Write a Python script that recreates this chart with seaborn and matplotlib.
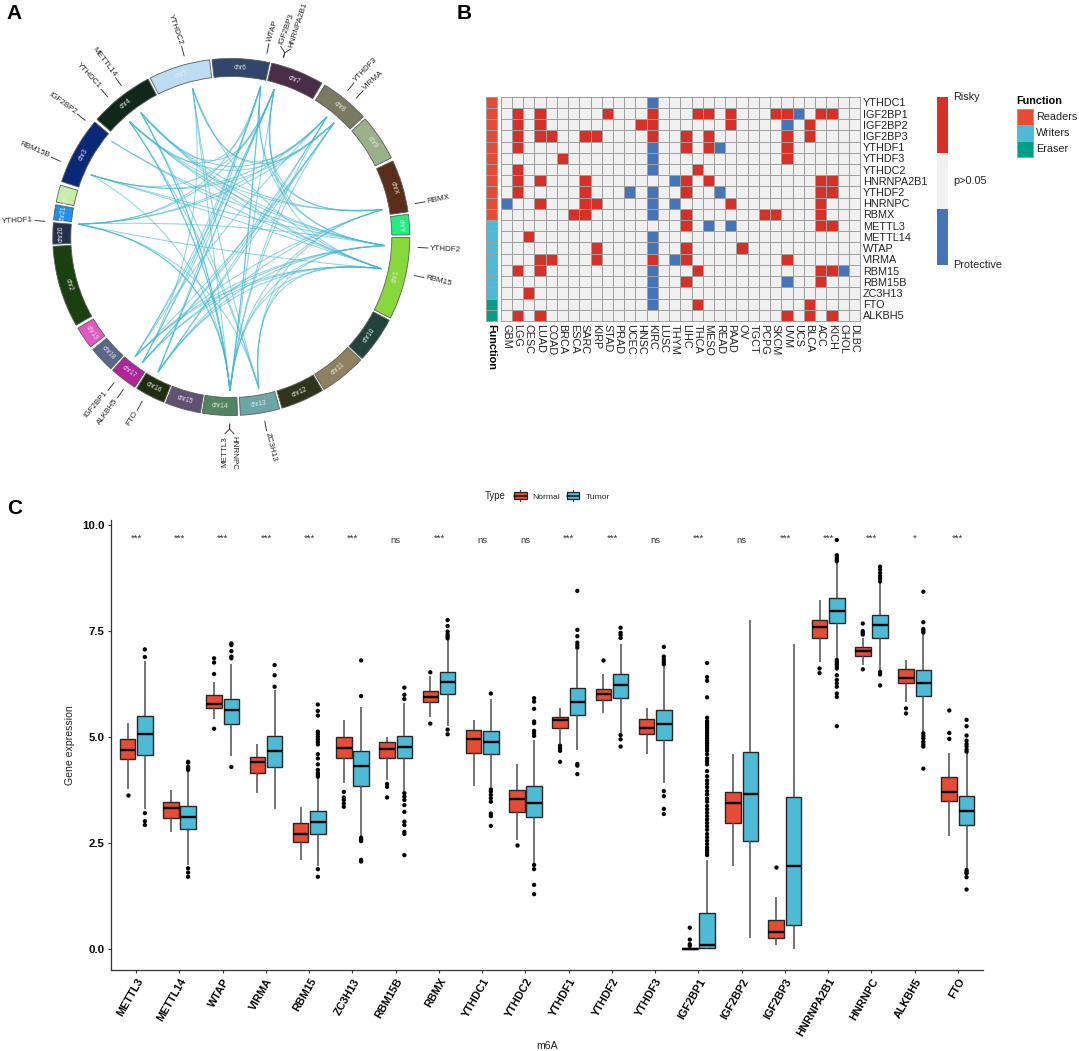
import numpy as np
import pandas as pd
import matplotlib
matplotlib.use("Agg")
import matplotlib.pyplot as plt
from matplotlib.colors import ListedColormap
from matplotlib.patches import Wedge, Rectangle, Patch
from matplotlib.lines import Line2D
from matplotlib.legend_handler import HandlerBase
from matplotlib.path import Path
from matplotlib.patches import PathPatch
import seaborn as sns

sns.set_style("white")
plt.rcParams["font.family"] = ["Liberation Sans", "DejaVu Sans"]

W, H = 1079, 1051

# ---------------- Panel A data ----------------
chromosomes = ["chr1", "chr10", "chr11", "chr12", "chr13", "chr14", "chr15", "chr16", "chr17", "chr18",
               "chr19", "chr2", "chr20", "chr21", "chr22", "chr3", "chr4", "chr5", "chr6", "chr7",
               "chr8", "chr9", "chrX", "chrY"]
chrom_start = [0.2, 27.8, 43.5, 59.3, 74.3, 88.0, 100.0, 112.2, 122.7, 132.4, 142.0, 150.4, 177.7, 185.5,
               191.3, 198.1, 221.2, 243.0, 263.8, 283.1, 301.6, 318.6, 334.8, 352.7]
chrom_end = [27.0, 42.9, 58.7, 73.5, 87.1, 99.4, 111.6, 122.0, 131.7, 140.9, 149.3, 177.0, 184.6, 190.4,
             196.9, 220.1, 242.2, 263.0, 282.4, 300.5, 317.7, 333.7, 351.9, 359.3]
chrom_colors = ["#88D83C", "#22423C", "#8E8160", "#2E351A", "#6AA6A6", "#4F8560", "#5E5270", "#202E10",
                "#B0249A", "#5A6888", "#E058C0", "#1A4010", "#25304A", "#1E90EE", "#C4F0A0", "#0A2878",
                "#10281A", "#BCDCF4", "#30466A", "#4A2E48", "#7A7A60", "#9AB088", "#5A2E18", "#22EE80"]

circos_genes = ["YTHDC2", "WTAP", "IGF2BP3", "HNRNPA2B1", "YTHDF3", "VIRMA", "RBMX", "YTHDF2", "RBM15", "ZC3H13",
                "HNRNPC", "METTL3", "FTO", "ALKBH5", "IGF2BP1", "YTHDF1", "RBM15B", "IGF2BP2", "YTHDC1", "METTL14"]
gene_theta = [255.4, 281.0, 286.2, 286.2, 308.5, 312.0, 349.7, 3.2, 11.9, 79.7,
              90.5, 90.5, 118.5, 125.3, 128.8, 184.8, 203.9, 218.6, 228.6, 234.0]
label_theta = [255.4, 281.0, 284.5, 287.5, 308.5, 312.0, 349.7, 3.2, 11.9, 79.7,
               89.2, 91.9, 118.5, 125.3, 128.8, 184.8, 203.9, 218.6, 228.6, 234.0]
label_rotation = [-71, 72, 70, 72, 46, 42, 11, -3, -14, -76, -90, 90, 59, 54, 50, 3, -23, -36, -47, -53]

links = [
    ("METTL3", "YTHDC1"), ("METTL3", "METTL14"), ("METTL3", "YTHDC2"), ("METTL3", "YTHDF1"), ("METTL3", "WTAP"),
    ("METTL3", "IGF2BP3"), ("METTL3", "YTHDF3"), ("METTL3", "YTHDF2"), ("METTL3", "RBMX"),
    ("HNRNPC", "YTHDC1"), ("HNRNPC", "METTL14"), ("HNRNPC", "WTAP"), ("HNRNPC", "VIRMA"), ("HNRNPC", "RBM15"),
    ("HNRNPC", "RBM15B"), ("HNRNPC", "YTHDF1"),
    ("ZC3H13", "YTHDF2"), ("ZC3H13", "RBM15"), ("ZC3H13", "YTHDC1"), ("ZC3H13", "METTL14"), ("ZC3H13", "YTHDC2"),
    ("ZC3H13", "RBMX"), ("ZC3H13", "YTHDF1"),
    ("FTO", "IGF2BP3"), ("FTO", "HNRNPA2B1"), ("FTO", "WTAP"), ("FTO", "YTHDF3"), ("FTO", "VIRMA"),
    ("FTO", "YTHDF2"), ("FTO", "RBM15"), ("FTO", "RBMX"),
    ("ALKBH5", "WTAP"), ("ALKBH5", "IGF2BP3"), ("ALKBH5", "YTHDF3"), ("ALKBH5", "VIRMA"), ("ALKBH5", "YTHDF2"),
    ("ALKBH5", "RBM15"), ("ALKBH5", "YTHDC2"),
    ("IGF2BP1", "WTAP"), ("IGF2BP1", "IGF2BP3"), ("IGF2BP1", "VIRMA"), ("IGF2BP1", "RBM15"), ("IGF2BP1", "YTHDF2"),
    ("IGF2BP1", "YTHDF3"), ("IGF2BP1", "RBMX"),
    ("YTHDF1", "YTHDF3"), ("YTHDF1", "VIRMA"), ("YTHDF1", "WTAP"), ("YTHDF1", "RBM15"), ("YTHDF1", "YTHDF2"),
    ("YTHDF1", "IGF2BP3"),
    ("RBM15B", "YTHDF3"), ("RBM15B", "VIRMA"), ("RBM15B", "YTHDF2"), ("RBM15B", "RBM15"), ("RBM15B", "IGF2BP3"),
    ("IGF2BP2", "YTHDF2"), ("IGF2BP2", "RBM15"),
    ("YTHDC1", "YTHDF2"), ("YTHDC1", "RBM15"), ("YTHDC1", "WTAP"), ("YTHDC1", "RBMX"), ("YTHDC1", "VIRMA"),
    ("METTL14", "YTHDF2"), ("METTL14", "RBM15"), ("METTL14", "RBMX"), ("METTL14", "IGF2BP3"), ("METTL14", "YTHDF3"),
    ("YTHDC2", "YTHDF3"), ("YTHDC2", "VIRMA"), ("YTHDC2", "RBM15"),
    ("WTAP", "RBMX"), ("WTAP", "YTHDF2"), ("IGF2BP3", "RBMX"), ("IGF2BP3", "RBM15"), ("HNRNPA2B1", "YTHDF2"),
]

# ---------------- Panel B data ----------------
cancers = ["GBM", "LGG", "CESC", "LUAD", "COAD", "BRCA", "ESCA", "SARC", "KIRP", "STAD", "PRAD", "UCEC", "HNSC",
           "KIRC", "LUSC", "THYM", "LIHC", "THCA", "MESO", "READ", "PAAD", "OV", "TGCT", "PCPG", "SKCM", "UVM",
           "UCS", "BLCA", "ACC", "KICH", "CHOL", "DLBC"]
heat_genes = ["YTHDC1", "IGF2BP1", "IGF2BP2", "IGF2BP3", "YTHDF1", "YTHDF3", "YTHDC2", "HNRNPA2B1", "YTHDF2",
              "HNRNPC", "RBMX", "METTL3", "METTL14", "WTAP", "VIRMA", "RBM15", "RBM15B", "ZC3H13", "FTO", "ALKBH5"]
risky = {
    "IGF2BP1": ["LGG", "LUAD", "STAD", "KIRC", "THCA", "MESO", "PAAD", "SKCM", "UVM", "ACC", "KICH"],
    "IGF2BP2": ["LGG", "LUAD", "HNSC", "KIRC", "PAAD", "BLCA"],
    "IGF2BP3": ["LGG", "LUAD", "COAD", "SARC", "KIRP", "KIRC", "LIHC", "MESO", "UVM", "BLCA"],
    "YTHDF1": ["LGG", "LIHC", "MESO", "UVM"],
    "YTHDF3": ["BRCA", "UVM"],
    "YTHDC2": ["LGG", "THCA"],
    "HNRNPA2B1": ["LGG", "LUAD", "SARC", "LIHC", "MESO", "ACC", "KICH"],
    "YTHDF2": ["LGG", "SARC", "LIHC", "ACC", "KICH"],
    "HNRNPC": ["LUAD", "SARC", "KIRP", "PAAD", "ACC"],
    "RBMX": ["ESCA", "SARC", "LIHC", "PCPG", "SKCM", "ACC"],
    "METTL3": ["LIHC", "ACC", "KICH"],
    "METTL14": ["CESC"],
    "WTAP": ["KIRP", "LIHC", "OV"],
    "VIRMA": ["LUAD", "COAD", "KIRP", "KIRC", "LIHC", "UVM"],
    "RBM15": ["LGG", "LUAD", "THCA", "ACC", "KICH"],
    "RBM15B": ["LIHC", "ACC"],
    "ZC3H13": ["CESC"],
    "FTO": ["THCA", "BLCA"],
    "ALKBH5": ["LGG", "LUAD", "UVM", "BLCA", "KICH"],
}
protective = {
    "YTHDC1": ["KIRC"],
    "IGF2BP1": ["UCS"],
    "IGF2BP2": ["UVM"],
    "YTHDF1": ["KIRC", "READ"],
    "YTHDF3": ["KIRC"],
    "YTHDC2": ["KIRC"],
    "HNRNPA2B1": ["THYM"],
    "YTHDF2": ["UCEC", "KIRC", "READ"],
    "HNRNPC": ["GBM", "KIRC", "THYM"],
    "RBMX": ["KIRC"],
    "METTL3": ["MESO", "PAAD"],
    "METTL14": ["KIRC"],
    "WTAP": ["KIRC"],
    "VIRMA": ["THYM"],
    "RBM15": ["KIRC", "CHOL"],
    "RBM15B": ["KIRC", "UVM"],
    "ZC3H13": ["KIRC"],
    "FTO": ["KIRC"],
}
function_groups = ["Readers"] * 11 + ["Writers"] * 7 + ["Eraser"] * 2
function_names = ["Readers", "Writers", "Eraser"]

# ---------------- Panel C data ----------------
genes = ["METTL3", "METTL14", "WTAP", "VIRMA", "RBM15", "ZC3H13", "RBM15B", "RBMX", "YTHDC1", "YTHDC2",
         "YTHDF1", "YTHDF2", "YTHDF3", "IGF2BP1", "IGF2BP2", "IGF2BP3", "HNRNPA2B1", "HNRNPC", "ALKBH5", "FTO"]
significance = ["***", "***", "***", "***", "***", "***", "ns", "***", "ns", "ns",
                "***", "***", "ns", "***", "ns", "***", "***", "***", "*", "***"]
normal_lo = [3.79, 2.77, 5.44, 3.68, 2.10, 3.91, 3.99, 5.47, 3.86, 2.58, 4.85, 5.56, 4.60, 0.00, 1.96, 0.10, 6.78, 6.70, 5.84, 2.66]
normal_q1 = [4.48, 3.09, 5.68, 4.16, 2.54, 4.50, 4.51, 5.82, 4.62, 3.24, 5.21, 5.87, 5.08, 0.00, 2.97, 0.27, 7.34, 6.92, 6.28, 3.50]
normal_med = [4.71, 3.33, 5.78, 4.41, 2.72, 4.75, 4.73, 5.95, 4.96, 3.54, 5.40, 6.03, 5.22, 0.01, 3.44, 0.42, 7.60, 7.03, 6.40, 3.70]
normal_q3 = [4.95, 3.48, 5.99, 4.54, 2.97, 5.00, 4.89, 6.09, 5.16, 3.75, 5.48, 6.14, 5.44, 0.02, 3.72, 0.68, 7.77, 7.13, 6.60, 4.07]
normal_hi = [5.34, 3.75, 6.29, 4.85, 3.35, 5.40, 5.01, 6.45, 5.40, 4.37, 5.70, 6.49, 5.69, 0.03, 4.60, 1.24, 8.23, 7.34, 6.82, 4.62]
tumor_lo = [3.31, 1.99, 4.56, 3.31, 1.96, 2.67, 3.74, 5.27, 3.82, 2.03, 4.70, 5.09, 3.91, 0.00, 0.27, 0.00, 6.86, 6.57, 5.13, 1.91]
tumor_q1 = [4.59, 2.83, 5.32, 4.30, 2.73, 3.86, 4.50, 6.03, 4.61, 3.11, 5.52, 5.92, 4.94, 0.02, 2.55, 0.57, 7.69, 7.34, 5.98, 2.92]
tumor_med = [5.07, 3.11, 5.63, 4.67, 2.99, 4.31, 4.77, 6.29, 4.89, 3.46, 5.84, 6.22, 5.30, 0.11, 3.66, 1.96, 7.98, 7.64, 6.28, 3.27]
tumor_q3 = [5.50, 3.39, 5.90, 5.04, 3.25, 4.67, 5.04, 6.54, 5.15, 3.85, 6.17, 6.49, 5.65, 0.86, 4.66, 3.58, 8.27, 7.87, 6.58, 3.61]
tumor_hi = [6.79, 4.20, 6.72, 6.11, 4.03, 5.72, 5.81, 7.29, 5.90, 4.93, 7.05, 7.19, 6.67, 2.10, 7.76, 7.19, 9.10, 8.63, 7.43, 4.62]
normal_outliers = [
    [3.63], [], [6.86, 6.76, 6.49, 5.20], [], [], [3.71, 3.58, 3.52, 3.44, 3.36], [3.90, 3.83, 3.58],
    [6.53, 5.32], [], [2.47], [4.80, 4.74, 4.68, 4.42], [6.82], [], [0.51, 0.23, 0.12, 0.08], [], [1.93],
    [6.62, 6.51], [7.68, 7.50, 7.46, 7.42, 6.60], [5.68, 5.56], [5.63, 5.10, 4.96],
]
tumor_outliers = [
    [7.07, 6.89, 3.21, 3.02, 2.93],
    [4.42, 4.40, 4.30, 4.27, 4.23, 1.91, 1.81, 1.71],
    [7.21, 7.17, 7.03, 6.90, 6.86, 4.30],
    [6.70, 6.46, 6.19],
    [5.77, 5.62, 5.51, 5.13, 5.07, 5.01, 4.95, 4.89, 4.83, 4.60, 4.50, 4.36, 4.23, 4.16, 4.11, 4.07, 1.89, 1.71],
    [6.81, 5.97, 2.63, 2.59, 2.55, 2.11, 2.07],
    [6.17, 6.00, 5.90, 3.68, 3.60, 3.52, 3.40, 3.24, 3.01, 2.93, 2.77, 2.72, 2.22],
    [7.76, 7.62, 7.49, 7.42, 7.37, 7.33, 5.18, 5.07],
    [6.03, 3.77, 3.72, 3.64, 3.56, 3.48, 3.20, 3.14, 2.91],
    [5.92, 5.84, 5.67, 5.37, 5.33, 5.15, 5.09, 5.03, 1.99, 1.89, 1.52, 1.30],
    [8.45, 7.53, 7.38, 7.23, 7.17, 7.11, 4.37, 4.33, 4.13],
    [7.58, 7.46, 7.41, 7.34, 5.05, 4.95, 4.78],
    [7.13, 6.90, 6.83, 6.77, 6.72, 3.73, 3.61, 3.31, 3.19],
    [6.75, 6.42, 6.33, 5.94, 5.46, 5.38, 5.33, 5.28, 5.22, 5.16, 5.10, 5.04, 4.98, 4.92, 4.86, 4.80, 4.74, 4.68,
     4.60, 4.50, 4.43, 4.36, 4.20, 4.08, 3.98, 3.90, 3.82, 3.73, 3.65, 3.55, 3.48, 3.38, 3.30, 3.22, 3.14, 3.06,
     2.98, 2.90, 2.82, 2.72, 2.64, 2.56, 2.48, 2.40, 2.34, 2.28, 2.22],
    [],
    [],
    [9.65, 9.29, 9.24, 9.19, 9.15, 6.82, 6.77, 6.72, 6.67, 6.62, 6.46, 6.35, 6.27, 6.19, 6.03, 5.95, 5.26],
    [9.02, 8.95, 8.87, 8.80, 8.74, 8.67, 6.54, 6.48, 6.22],
    [8.43, 7.71, 7.55, 7.51, 7.47, 5.09, 5.03, 4.97, 4.89, 4.83, 4.78, 4.26],
    [5.41, 5.26, 5.04, 4.92, 4.84, 4.78, 4.71, 4.66, 1.87, 1.82, 1.79, 1.70, 1.41],
]

# ---------------- Styles ----------------
RED, GREY, BLUE = "#D73027", "#F0F0F0", "#4575B8"
NPG_RED, NPG_BLUE, NPG_GREEN = "#E64B35", "#4DBBD5", "#00A087"
GRID = "#A0A0A0"
TXT = "#222222"
CELL_LW = 0.45


def px_axes(fig, x0, y0, x1, y1, **kw):
    return fig.add_axes([x0 / W, 1 - y1 / H, (x1 - x0) / W, (y1 - y0) / H], **kw)


fig = plt.figure(figsize=(W / 100, H / 100), dpi=100, facecolor="white")

# ---------------- Panel A ----------------
ax_a = fig.add_axes([0, 0, 1, 1], zorder=0)
ax_a.set_xlim(0, W)
ax_a.set_ylim(H, 0)
ax_a.axis("off")
CX, CY, R_OUT, R_IN, R_LINK = 231.3, 237.0, 178.5, 160.5, 153.7


def polar(theta, r):
    t = np.deg2rad(theta)
    return CX + r * np.cos(t), CY + r * np.sin(t)


for name, t0, t1, col in zip(chromosomes, chrom_start, chrom_end, chrom_colors):
    ax_a.add_patch(Wedge((CX, CY), R_OUT, t0, t1, width=R_OUT - R_IN, facecolor=col,
                         edgecolor="#5c5c5c", linewidth=0.6))
    mid = (t0 + t1) / 2
    rot = 90 - mid if mid < 180 else 270 - mid
    tx, ty = polar(mid, (R_OUT + R_IN) / 2)
    ax_a.text(tx, ty, name, rotation=rot, rotation_mode="anchor", ha="center", va="center",
              fontsize=4.7, color="#E8E8E8")

theta_of = dict(zip(circos_genes, gene_theta))
for g1, g2 in links:
    t1, t2 = theta_of[g1], theta_of[g2]
    p1, p2 = polar(t1, R_LINK), polar(t2, R_LINK)
    mx, my = (p1[0] + p2[0]) / 2 - CX, (p1[1] + p2[1]) / 2 - CY
    norm = np.hypot(mx, my) + 1e-9
    ctrl = (CX + mx / norm * 0.12 * R_LINK, CY + my / norm * 0.12 * R_LINK)
    path = Path([p1, ctrl, p2], [Path.MOVETO, Path.CURVE3, Path.CURVE3])
    ax_a.add_patch(PathPatch(path, facecolor="none", edgecolor="#45B8D6", linewidth=0.75, alpha=0.6))

for name, th, lth, rot in zip(circos_genes, gene_theta, label_theta, label_rotation):
    a = polar(th, 187)
    b = polar(th, 192)
    c = polar(lth, 197)
    if abs(th - lth) < 0.01:
        ax_a.plot([a[0], c[0]], [a[1], c[1]], color="#333333", lw=0.65)
    else:
        ax_a.plot([a[0], b[0], c[0]], [a[1], b[1], c[1]], color="#333333", lw=0.65)
    tx, ty = polar(lth, 199)
    left_side = np.cos(np.deg2rad(lth)) < 0
    ax_a.text(tx, ty, name, rotation=rot, rotation_mode="anchor", ha="right" if left_side else "left",
              va="center", fontsize=5.8, color=TXT)

# ---------------- Panel B ----------------
mat = pd.DataFrame(0, index=heat_genes, columns=cancers, dtype=float)
for g, cols in risky.items():
    mat.loc[g, cols] = 1
for g, cols in protective.items():
    mat.loc[g, cols] = -1
X0, X1, Y0, Y1 = 500.7, 860.0, 96.7, 321.0
ax_h = px_axes(fig, X0, Y0, X1, Y1)
sns.heatmap(mat, ax=ax_h, cmap=ListedColormap([BLUE, GREY, RED]), vmin=-1, vmax=1, cbar=False,
            linewidths=CELL_LW, linecolor=GRID, clip_on=False, xticklabels=True, yticklabels=True)
ax_h.yaxis.tick_right()
ax_h.tick_params(axis="both", length=0, pad=2)
ax_h.set_xticklabels(cancers, rotation=-90, fontsize=7.8, color=TXT)
ax_h.set_yticklabels(heat_genes, rotation=0, fontsize=7.8, color=TXT)
ax_h.set_xlabel("")
ax_h.set_ylabel("")

func_codes = pd.DataFrame({"Function": [function_names.index(f) for f in function_groups]}, index=heat_genes)
ax_f = px_axes(fig, 486, Y0, 497.3, Y1)
func_cmap = ListedColormap([NPG_RED, NPG_BLUE, NPG_GREEN])
sns.heatmap(func_codes, ax=ax_f, cmap=func_cmap, vmin=0, vmax=2, cbar=False,
            linewidths=CELL_LW, linecolor=GRID, xticklabels=True, yticklabels=False, clip_on=False)
ax_f.tick_params(axis="x", length=0, pad=2)
ax_f.set_xticklabels(["Function"], rotation=-90, fontsize=7.8, fontweight="bold", color="black")
ax_f.set_ylabel("")

# colour key
key = pd.DataFrame({"k": [1, 0, -1]}, index=["Risky", "p>0.05", "Protective"])
ax_k = px_axes(fig, 937.3, 96.7, 948.3, 265.0)
sns.heatmap(key, ax=ax_k, cmap=ListedColormap([BLUE, GREY, RED]), vmin=-1, vmax=1, cbar=False,
            xticklabels=False, yticklabels=False)
ax_k.set_xlabel("")
ax_k.set_ylabel("")
for yy, lab in zip([0.0, 1.5, 3.0], key.index):
    ax_k.text(1.42, yy, lab, fontsize=7.8, color=TXT, va="center", ha="left", clip_on=False)

# function legend
ax_l = px_axes(fig, 1016.5, 108.5, 1033, 156.5)
sns.heatmap(pd.DataFrame({"f": [0, 1, 2]}, index=function_names), ax=ax_l, cmap=func_cmap, vmin=0, vmax=2,
            cbar=False, linewidths=CELL_LW, linecolor=GRID, xticklabels=False, yticklabels=False, clip_on=False)
ax_l.set_xlabel("")
ax_l.set_ylabel("")
for i, lab in enumerate(function_names):
    ax_l.text(1.2, i + 0.5, lab, fontsize=7.8, color=TXT, va="center", ha="left", clip_on=False)
ax_l.text(0, -0.44, "Function", fontsize=7.8, fontweight="bold", color="black", va="center", ha="left", clip_on=False)

# ---------------- Panel C ----------------
rows = []
for i, g in enumerate(genes):
    for v in (normal_lo[i], normal_q1[i], normal_med[i], normal_q3[i], normal_hi[i]):
        rows.append((g, "Normal", v))
    for v in (tumor_lo[i], tumor_q1[i], tumor_med[i], tumor_q3[i], tumor_hi[i]):
        rows.append((g, "Tumor", v))
df_box = pd.DataFrame(rows, columns=["m6A", "Type", "value"])
out_rows = [(g, "Normal", v) for g, vs in zip(genes, normal_outliers) for v in vs]
out_rows += [(g, "Tumor", v) for g, vs in zip(genes, tumor_outliers) for v in vs]
df_out = pd.DataFrame(out_rows, columns=["m6A", "Type", "value"])

ax_c = px_axes(fig, 110.7, 520, 983, 969.7, zorder=2)
palette = {"Normal": NPG_RED, "Tumor": NPG_BLUE}
sns.boxplot(data=df_box, x="m6A", y="value", hue="Type", order=genes, hue_order=["Normal", "Tumor"],
            palette=palette, width=0.8, gap=0.1, whis=(0, 100), showfliers=False, saturation=1,
            linewidth=1.0, linecolor="#262626", legend=False, ax=ax_c,
            medianprops={"linewidth": 1.7, "color": "black"},
            whiskerprops={"linewidth": 1.1, "color": "#4d4d4d"},
            capprops={"linewidth": 0})
sns.stripplot(data=df_out, x="m6A", y="value", hue="Type", order=genes, hue_order=["Normal", "Tumor"],
              palette={"Normal": "black", "Tumor": "black"}, dodge=True, jitter=False, size=3.1, linewidth=0,
              legend=False, ax=ax_c, zorder=3)
ax_c.set_xlim(-0.59, 19.58)
ax_c.set_ylim(-0.48, 10.12)
ax_c.set_yticks([0, 2.5, 5, 7.5, 10])
ax_c.set_yticklabels(["0.0", "2.5", "5.0", "7.5", "10.0"], fontsize=8.2, fontweight="bold", color="black")
ax_c.set_xticks(range(len(genes)))
ax_c.set_xticklabels(genes, rotation=60, ha="right", va="top", rotation_mode="anchor",
                     fontsize=7.8, fontweight="bold", color="black")
ax_c.tick_params(axis="both", length=2.5, width=0.8, color="#333333", pad=2, bottom=True, left=True)
ax_c.tick_params(axis="x", pad=2.5)
ax_c.set_xlabel("m6A", fontsize=7.6, color=TXT, va="center")
ax_c.xaxis.set_label_coords(0.5, -0.1687)
ax_c.set_ylabel("Gene expression", fontsize=7.6, color=TXT)
ax_c.yaxis.set_label_coords(-0.041, 0.5)
sns.despine(ax=ax_c)
for s in ("left", "bottom"):
    ax_c.spines[s].set_linewidth(0.9)
    ax_c.spines[s].set_color("#333333")
ax_c.patch.set_alpha(0)
for i, s in enumerate(significance):
    ax_c.text(i, 9.68 if s != "ns" else 9.64, s, ha="center", va="center", fontsize=6.8, color="#333333")


class BoxHandler(HandlerBase):
    def create_artists(self, legend, orig, xd, yd, width, height, fontsize, trans):
        y0, y1 = height * 0.02, height * 0.98
        rect = Rectangle((-xd, y0 - yd), width, y1 - y0, facecolor=orig.get_facecolor(), edgecolor="#262626",
                         linewidth=0.9, transform=trans)
        cx = -xd + width / 2
        med = Line2D([-xd, -xd + width], [height / 2 - yd] * 2, color="#111111", lw=1.1, transform=trans)
        w1 = Line2D([cx, cx], [y1 - yd, height * 1.3 - yd], color="#333333", lw=0.8, transform=trans)
        w2 = Line2D([cx, cx], [y0 - yd, -height * 0.3 - yd], color="#333333", lw=0.8, transform=trans)
        return [w1, w2, rect, med]


fig.legend(handles=[Patch(facecolor=NPG_RED, label="Normal"), Patch(facecolor=NPG_BLUE, label="Tumor")],
           handler_map={Patch: BoxHandler()}, ncol=2, loc="center", bbox_to_anchor=(562 / W, 1 - 496.5 / H),
           frameon=False, fontsize=6.1, labelcolor=TXT, handlelength=1.45, handleheight=0.9, handletextpad=0.7,
           columnspacing=0.8, borderpad=0, borderaxespad=0)
fig.text(485 / W, 1 - 496.5 / H, "Type", fontsize=6.9, color=TXT, va="center", ha="left")

# ---------------- Panel letters ----------------
for lab, x, y in [("A", 6, 13.5), ("B", 457, 13.5), ("C", 7, 508)]:
    fig.text(x / W, 1 - y / H, lab, fontsize=15, fontweight="bold", color="black", va="center", ha="left")

fig.savefig("out.png", dpi=100, facecolor="white")
